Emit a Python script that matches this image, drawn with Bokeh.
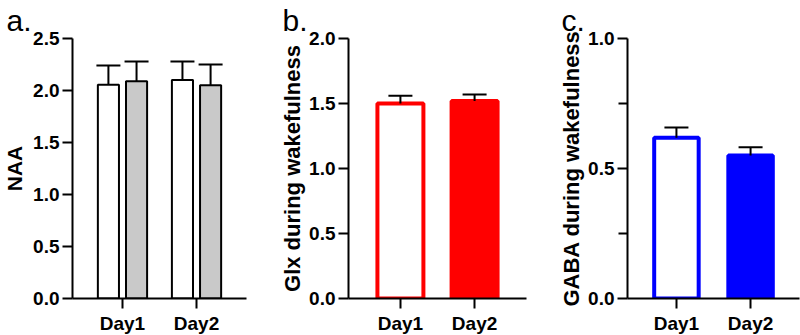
from bokeh.plotting import figure
from bokeh.models import (FactorRange, Range1d, FixedTicker, Whisker, TeeHead,
                          ColumnDataSource, NumeralTickFormatter)
from bokeh.transform import dodge
from bokeh.layouts import row
from bokeh.embed import file_html
from bokeh.resources import INLINE

# ---------------- data ----------------
days = ["Day1", "Day2"]

naa_white = [2.055, 2.10]
naa_white_err = [0.185, 0.18]
naa_gray = [2.09, 2.05]
naa_gray_err = [0.19, 0.20]

glx = [1.50, 1.52]
glx_err = [0.06, 0.05]

gaba = [0.618, 0.55]
gaba_err = [0.04, 0.032]

naa_ticks = [0.0, 0.5, 1.0, 1.5, 2.0, 2.5]
glx_ticks = [0.0, 0.5, 1.0, 1.5, 2.0]
gaba_ticks = [0.0, 0.5, 1.0]
gaba_minor = [0.25, 0.75]

FONT = "Liberation Sans"


def make_fig(left, fw, right, ymax, pad, label):
    p = figure(x_range=FactorRange(*days, range_padding=pad),
               y_range=Range1d(0, ymax),
               width=left + fw + right, height=335,
               frame_width=fw, frame_height=260,
               min_border_left=left, min_border_right=right,
               min_border_top=37, min_border_bottom=38,
               output_backend="svg", toolbar_location=None)
    p.title.text = label
    p.title.align = "left"
    p.title.offset = -66
    p.title.text_font = FONT
    p.title.text_font_style = "normal"
    p.title.text_font_size = "30px"
    p.title.text_color = "black"
    p.title.standoff = 3
    p.outline_line_color = None
    p.grid.visible = False
    p.background_fill_color = "white"
    p.border_fill_color = "white"
    for ax in p.axis:
        ax.axis_line_width = 2
        ax.axis_line_color = "black"
        ax.major_tick_line_width = 2
        ax.major_tick_line_color = "black"
        ax.major_tick_in = 0
        ax.major_tick_out = 10
        ax.minor_tick_line_color = None
        ax.major_label_text_font = FONT
        ax.major_label_text_font_style = "bold"
        ax.major_label_text_font_size = "19px"
        ax.major_label_text_color = "black"
        ax.axis_label_text_font = FONT
        ax.axis_label_text_font_style = "bold"
        ax.axis_label_text_color = "black"
    p.xaxis.major_label_standoff = 4
    p.yaxis.major_label_standoff = 3
    p.yaxis.formatter = NumeralTickFormatter(format="0.0")
    return p


def err_bar(p, src, xoff, top, hi, color="black"):
    p.add_layout(Whisker(source=src,
                         base=dodge("day", xoff, range=p.x_range),
                         lower=top, upper=hi,
                         line_color=color, line_width=2,
                         upper_head=TeeHead(size=24, line_color=color, line_width=2),
                         lower_head=None, level="glyph"))


# ---------------- panel a ----------------
src_a = ColumnDataSource(dict(
    day=days,
    white=naa_white,
    white_hi=[v + e for v, e in zip(naa_white, naa_white_err)],
    gray=naa_gray,
    gray_hi=[v + e for v, e in zip(naa_gray, naa_gray_err)],
))
pa = make_fig(71, 174, 20, 2.5, 0.175, "a.")
pa.yaxis.ticker = FixedTicker(ticks=naa_ticks)
pa.yaxis.axis_label = "NAA"
pa.yaxis.axis_label_text_font_size = "21px"
pa.yaxis.axis_label_standoff = 4
err_bar(pa, src_a, -0.19, "white", "white_hi")
err_bar(pa, src_a, 0.19, "gray", "gray_hi")
pa.vbar(x=dodge("day", -0.19, range=pa.x_range), top="white", width=0.285,
        fill_color="white", line_color="black", line_width=2, source=src_a)
pa.vbar(x=dodge("day", 0.19, range=pa.x_range), top="gray", width=0.285,
        fill_color="#c9c9c9", line_color="black", line_width=2, source=src_a)

# ---------------- panel b ----------------
src_b = ColumnDataSource(dict(
    day=days, val=glx,
    hi=[v + e for v, e in zip(glx, glx_err)],
    fill=["white", "#ff0000"],
))
pb = make_fig(82, 178, 5, 2.0, 0.2, "b.")
pb.yaxis.ticker = FixedTicker(ticks=glx_ticks)
pb.yaxis.axis_label = "Glx during wakefulness"
pb.yaxis.axis_label_text_font_size = "22px"
pb.yaxis.axis_label_standoff = 1
err_bar(pb, src_b, 0.0, "val", "hi")
pb.vbar(x="day", top="val", width=0.62, fill_color="fill",
        line_color="#ff0000", line_width=4, source=src_b)

# ---------------- panel c ----------------
src_c = ColumnDataSource(dict(
    day=days, val=gaba,
    hi=[v + e for v, e in zip(gaba, gaba_err)],
    fill=["white", "#0000ff"],
))
pc = make_fig(96, 172, 2, 1.0, 0.16, "c.")
pc.yaxis.ticker = FixedTicker(ticks=gaba_ticks, minor_ticks=gaba_minor)
pc.yaxis.minor_tick_line_color = "black"
pc.yaxis.minor_tick_line_width = 2
pc.yaxis.minor_tick_in = 0
pc.yaxis.minor_tick_out = 9
pc.yaxis.axis_label = "GABA during wakefulness"
pc.yaxis.axis_label_text_font_size = "22px"
pc.yaxis.axis_label_standoff = 1
err_bar(pc, src_c, 0.0, "val", "hi")
pc.vbar(x="day", top="val", width=0.6, fill_color="fill",
        line_color="#0000ff", line_width=4, source=src_c)

layout = row(pa, pb, pc)
open("out.html", "w").write(file_html(layout, INLINE))
